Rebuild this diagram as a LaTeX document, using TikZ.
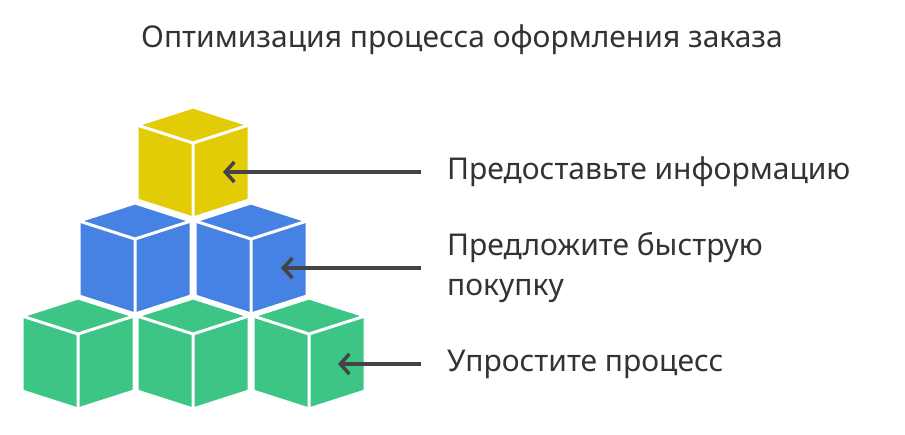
\documentclass[tikz,border=0pt]{standalone}
\usepackage{fontspec}
\setmainfont{Noto Sans}
\usetikzlibrary{arrows.meta, positioning}
\definecolor{cubeyellow}{HTML}{E2CC06}
\definecolor{cubeblue}{HTML}{4682E3}
\definecolor{cubegreen}{HTML}{3CC585}
\definecolor{arrowgray}{HTML}{444444}
\newcommand{\isocube}[3]{% center x, top y, colour
  \filldraw[cube, fill=#3] (#1,#2) -- ++(56,18) -- ++(0,75) -- ++(-56,18) -- ++(-56,-18) -- ++(0,-75) -- cycle;
  \draw[cube] (#1-56,#2+18) -- (#1,#2+36) -- (#1+56,#2+18) (#1,#2+36) -- (#1,#2+111);
}
\begin{document}
\begin{tikzpicture}[x=1pt, y=-1pt,
    cube/.style={draw=white, line width=3pt, line join=miter},
    label/.style={anchor=west, font=\fontsize{30}{40}\selectfont, text=black!80, align=left, inner sep=0pt},
    line/.style={draw=arrowgray, line width=3.5pt, -{Straight Barb[length=9pt, width=20pt, line width=3.5pt]}}]
    \useasboundingbox (0,0) rectangle (905,434);

    % Title
    \node[font=\fontsize{30}{36}\selectfont, text=black!80] (title) at (462,40) {Оптимизация процесса оформления заказа};

    % Cubes: bottom row, middle row, top
    \foreach \cx in {78,193,309} {\isocube{\cx}{298}{cubegreen}}
    \foreach \cx in {135,251} {\isocube{\cx}{203}{cubeblue}}
    \isocube{193}{107}{cubeyellow}

    % Labels
    \node[label] (info) at (447,172) {Предоставьте информацию};
    \node[label] (quick) at (447,268) {Предложите быструю\\покупку};
    \node[label] (simple) at (447,364) {Упростите процесс};

    % Arrow ends
    \coordinate (infoend) at (223,172);
    \coordinate (quickend) at (281,268);
    \coordinate (simpleend) at (338,364);

    % Connections
    \path[line] (info.west) ++(-26,0) -- (infoend);
    \path[line] (quick.west) ++(-26,0) -- (quickend);
    \path[line] (simple.west) ++(-26,0) -- (simpleend);
\end{tikzpicture}
\end{document}
